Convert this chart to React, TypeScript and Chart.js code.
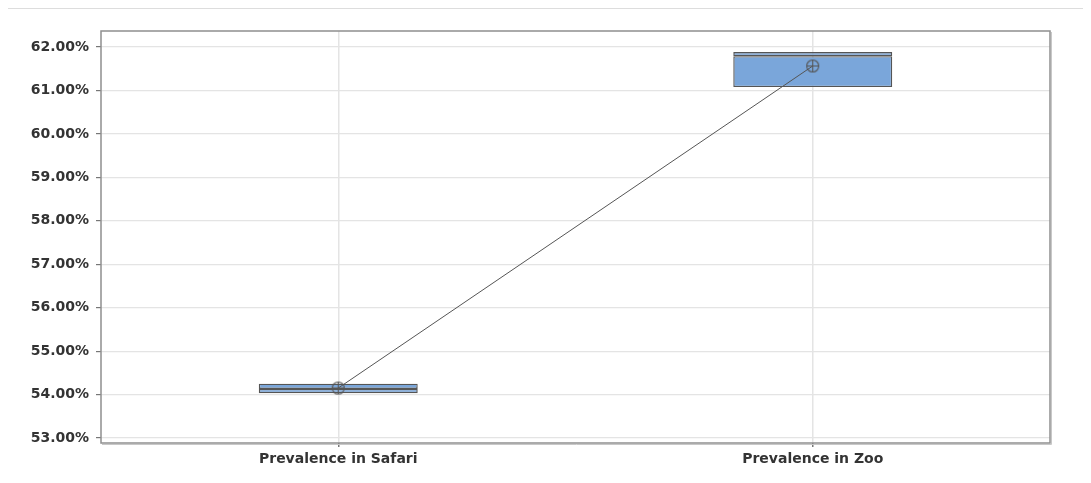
import React, { useEffect, useRef } from "react";
import { Chart, registerables } from "chart.js";

Chart.register(...registerables);

const categories = ["Prevalence in Safari", "Prevalence in Zoo"];
const q1Values = [54.03, 61.08];
const medianValues = [54.13, 61.79];
const q3Values = [54.25, 61.885];
const meanValues = [54.15, 61.565];
const yTickValues = [53, 54, 55, 56, 57, 58, 59, 60, 61, 62];
const yMin = 52.885;
const yMax = 62.37;

function makeMeanSymbol(): HTMLCanvasElement {
  const c = document.createElement("canvas");
  c.width = 15;
  c.height = 15;
  const ctx = c.getContext("2d")!;
  ctx.strokeStyle = "#555555";
  ctx.lineWidth = 1.1;
  ctx.beginPath();
  ctx.arc(7.5, 7.5, 6, 0, Math.PI * 2);
  ctx.stroke();
  ctx.beginPath();
  ctx.moveTo(1.5, 7.5);
  ctx.lineTo(13.5, 7.5);
  ctx.moveTo(7.5, 1.5);
  ctx.lineTo(7.5, 13.5);
  ctx.stroke();
  return c;
}

const framePlugin = {
  id: "frame",
  afterDatasetsDraw(chart: any) {
    const { ctx, chartArea } = chart;
    const { left, right, top, bottom } = chartArea;
    ctx.save();
    ctx.strokeStyle = "#c8c8c8";
    ctx.lineWidth = 1;
    ctx.beginPath();
    ctx.moveTo(right + 1.5, top + 1);
    ctx.lineTo(right + 1.5, bottom + 1.5);
    ctx.lineTo(left + 1, bottom + 1.5);
    ctx.stroke();
    ctx.strokeStyle = "#8f8f8f";
    ctx.lineWidth = 1.5;
    ctx.strokeRect(left, top, right - left, bottom - top);
    ctx.restore();
  },
};

export default function App() {
  const ref = useRef<HTMLCanvasElement | null>(null);

  useEffect(() => {
    if (!ref.current) return;
    const symbol = makeMeanSymbol();
    const boxFill = "#7aa6da";
    const boxBorder = "#555555";
    const font = { family: "DejaVu Sans", size: 14, weight: "bold" as const };
    const chart = new Chart(ref.current, {
      type: "bar",
      data: {
        labels: categories,
        datasets: [
          {
            type: "line",
            label: "Mean",
            data: meanValues,
            borderColor: "#555555",
            borderWidth: 1,
            pointStyle: symbol as any,
            pointRadius: 7,
            pointHoverRadius: 7,
            fill: false,
            order: 0,
          } as any,
          {
            label: "Lower box",
            data: categories.map((_, i) => [q1Values[i], medianValues[i]]),
            backgroundColor: boxFill,
            borderColor: boxBorder,
            borderWidth: 1.4,
            borderSkipped: false,
            grouped: false,
            barPercentage: 0.335,
            categoryPercentage: 1,
            order: 1,
          } as any,
          {
            label: "Upper box",
            data: categories.map((_, i) => [medianValues[i], q3Values[i]]),
            backgroundColor: boxFill,
            borderColor: boxBorder,
            borderWidth: 1.4,
            borderSkipped: false,
            grouped: false,
            barPercentage: 0.335,
            categoryPercentage: 1,
            order: 1,
          } as any,
        ],
      },
      options: {
        animation: false,
        responsive: true,
        maintainAspectRatio: false,
        layout: { padding: { left: 0, right: 33, top: 22, bottom: 0 } },
        plugins: {
          legend: { display: false },
          tooltip: { enabled: false },
        },
        scales: {
          x: {
            offset: true,
            grid: {
              offset: false,
              color: "#e4e4e4",
              lineWidth: 1.5,
              tickColor: "#777777",
              tickLength: 4,
            },
            border: { display: false },
            ticks: { color: "#333333", font, padding: 4, maxRotation: 0 },
            afterFit: (scale: any) => {
              scale.height = 32;
            },
          },
          y: {
            min: yMin,
            max: yMax,
            grid: {
              color: "#e4e4e4",
              lineWidth: 1.2,
              tickColor: "#777777",
              tickLength: 5,
            },
            border: { display: false },
            ticks: {
              color: "#333333",
              font,
              padding: 7,
              callback: (v: any) => Number(v).toFixed(2) + "%",
            },
            afterBuildTicks: (scale: any) => {
              scale.ticks = yTickValues.map((v) => ({ value: v }));
            },
            afterFit: (scale: any) => {
              scale.width = 93;
            },
          },
        },
      },
      plugins: [framePlugin],
    });
    return () => chart.destroy();
  }, []);

  return (
    <div style={{ width: 1075, borderTop: "1px solid #dddddd" }}>
      <div style={{ position: "relative", width: 1075, height: 466 }}>
        <canvas ref={ref} />
      </div>
    </div>
  );
}
